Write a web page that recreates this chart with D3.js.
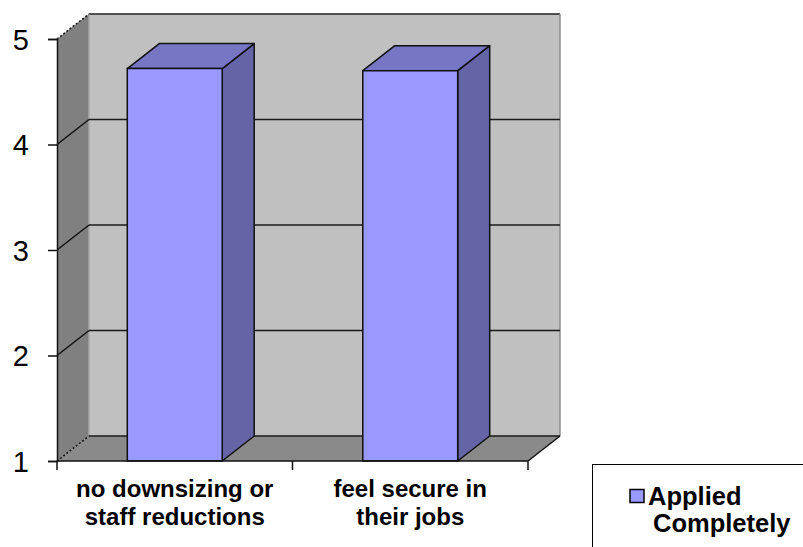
<!DOCTYPE html>
<html>
<head>
<meta charset="utf-8">
<script src="https://cdn.jsdelivr.net/npm/d3@7"></script>
<style>
  html, body { margin: 0; padding: 0; background: #fff; }
  svg { display: block; font-family: "Liberation Sans", Arial, sans-serif; }
</style>
</head>
<body>
<svg id="chart" width="803" height="547"></svg>
<script>
// Data
const categories = ["no downsizing or staff reductions", "feel secure in their jobs"];
const categoryLines = [["no downsizing or", "staff reductions"], ["feel secure in", "their jobs"]];
const seriesName = ["Applied", "Completely"];
const values = [4.72, 4.70];
const yTicks = [1, 2, 3, 4, 5];

// Layout
const plotLeft = 57, plotRight = 528, plotBottom = 461, plotTop = 39;
const dx = 32, dy = 25; // depth offset of the 3D box

const svg = d3.select("#chart");

const y = d3.scaleLinear().domain([1, 5]).range([plotBottom, plotTop]);
const x = d3.scaleBand().domain(categories).range([plotLeft, plotRight])
  .paddingInner(0.597).paddingOuter(0.2985);

const poly = pts => "M" + pts.map(p => p.join(",")).join("L") + "Z";

// Back wall
svg.append("path")
  .attr("d", poly([[plotLeft + dx, y(5) - dy], [plotRight + dx, y(5) - dy], [plotRight + dx, y(1) - dy], [plotLeft + dx, y(1) - dy]]))
  .attr("fill", "#c0c0c0").attr("stroke", "none");
// Side wall
svg.append("path")
  .attr("d", poly([[plotLeft, y(5)], [plotLeft + dx, y(5) - dy], [plotLeft + dx, y(1) - dy], [plotLeft, y(1)]]))
  .attr("fill", "#808080");
// Floor
svg.append("path")
  .attr("d", poly([[plotLeft, y(1)], [plotLeft + dx, y(1) - dy], [plotRight + dx, y(1) - dy], [plotRight, y(1)]]))
  .attr("fill", "#8a8a8a");

// Back wall borders
svg.append("line")
  .attr("x1", plotLeft + dx).attr("y1", y(5) - dy).attr("x2", plotRight + dx).attr("y2", y(5) - dy)
  .attr("stroke", "#222").attr("stroke-width", 1.5);
svg.append("line")
  .attr("x1", plotRight + dx).attr("y1", y(5) - dy).attr("x2", plotRight + dx).attr("y2", y(1) - dy)
  .attr("stroke", "#8c8c8c").attr("stroke-width", 1.5);
svg.append("line")
  .attr("x1", plotLeft + dx).attr("y1", y(5) - dy).attr("x2", plotLeft + dx).attr("y2", y(1) - dy)
  .attr("stroke", "#a8a8a8").attr("stroke-width", 1.5);

// Gridlines across the side wall and the back wall
const grid = svg.append("g");
yTicks.forEach(t => {
  const dashed = (t === 1 || t === 5);
  grid.append("line")
    .attr("x1", plotLeft).attr("y1", y(t)).attr("x2", plotLeft + dx).attr("y2", y(t) - dy)
    .attr("stroke", "#111").attr("stroke-width", 1.5)
    .attr("stroke-dasharray", dashed ? "2,2" : null);
  if (t !== 5) {
    grid.append("line")
      .attr("x1", plotLeft + dx).attr("y1", y(t) - dy).attr("x2", plotRight + dx).attr("y2", y(t) - dy)
      .attr("stroke", "#1a1a1a").attr("stroke-width", 1.5);
  }
});
// Floor right edge
svg.append("line")
  .attr("x1", plotRight).attr("y1", y(1)).attr("x2", plotRight + dx).attr("y2", y(1) - dy)
  .attr("stroke", "#111").attr("stroke-width", 1.5);

// Bars
const bars = svg.append("g").selectAll("g").data(values).join("g");
bars.each(function (v, i) {
  const g = d3.select(this);
  const x0 = x(categories[i]), x1 = x0 + x.bandwidth();
  const yt = y(v), yb = y(1);
  g.append("path")
    .attr("d", poly([[x1, yt], [x1 + dx, yt - dy], [x1 + dx, yb - dy], [x1, yb]]))
    .attr("fill", "#6464a6").attr("stroke", "#111").attr("stroke-width", 1.5).attr("stroke-linejoin", "round");
  g.append("path")
    .attr("d", poly([[x0, yt], [x0 + dx, yt - dy], [x1 + dx, yt - dy], [x1, yt]]))
    .attr("fill", "#7676c4").attr("stroke", "#111").attr("stroke-width", 1.5).attr("stroke-linejoin", "round");
  g.append("path")
    .attr("d", poly([[x0, yt], [x1, yt], [x1, yb], [x0, yb]]))
    .attr("fill", "#9999ff").attr("stroke", "#111").attr("stroke-width", 1.5);
});

// Y axis
const yAxis = svg.append("g").attr("transform", `translate(${plotLeft},0)`)
  .call(d3.axisLeft(y).tickValues(yTicks).tickFormat(d3.format("d")).tickSize(9).tickPadding(19));
yAxis.select(".domain").attr("stroke", "#111").attr("stroke-width", 1.5);
yAxis.selectAll(".tick line").attr("stroke", "#111").attr("stroke-width", 1.5);
yAxis.selectAll(".tick text")
  .attr("font-size", 29).attr("font-family", "'Liberation Sans', Arial, sans-serif")
  .attr("fill", "#000").attr("dy", "0.36em");

// X axis (front edge of the floor)
const xAxisG = svg.append("g");
xAxisG.append("line")
  .attr("x1", plotLeft).attr("y1", plotBottom).attr("x2", plotRight).attr("y2", plotBottom)
  .attr("stroke", "#111").attr("stroke-width", 1.5);
const boundaries = [plotLeft, (x(categories[0]) + x.bandwidth() + x(categories[1])) / 2, plotRight];
boundaries.forEach(bx => {
  xAxisG.append("line")
    .attr("x1", bx).attr("y1", plotBottom).attr("x2", bx).attr("y2", plotBottom + 9)
    .attr("stroke", "#111").attr("stroke-width", 1.5);
});
categories.forEach((c, i) => {
  const cx = x(c) + x.bandwidth() / 2;
  const t = xAxisG.append("text")
    .attr("x", cx).attr("y", 497)
    .attr("text-anchor", "middle")
    .attr("font-size", 24).attr("font-weight", "bold").attr("fill", "#000");
  categoryLines[i].forEach((line, k) => {
    t.append("tspan").attr("x", cx).attr("dy", k === 0 ? 0 : 28).text(line);
  });
});

// Legend
const legend = svg.append("g");
legend.append("rect")
  .attr("x", 592.5).attr("y", 464.5).attr("width", 240).attr("height", 120)
  .attr("fill", "#fff").attr("stroke", "#000").attr("stroke-width", 1);
legend.append("rect")
  .attr("x", 630).attr("y", 489.5).attr("width", 14).attr("height", 13)
  .attr("fill", "#9999ff").attr("stroke", "#000").attr("stroke-width", 1.5);
legend.append("text")
  .attr("x", 648).attr("y", 505)
  .attr("font-size", 25.5).attr("font-weight", "bold").attr("fill", "#000")
  .text(seriesName[0]);
legend.append("text")
  .attr("x", 653).attr("y", 532)
  .attr("font-size", 25.5).attr("font-weight", "bold").attr("fill", "#000")
  .text(seriesName[1]);
</script>
</body>
</html>
